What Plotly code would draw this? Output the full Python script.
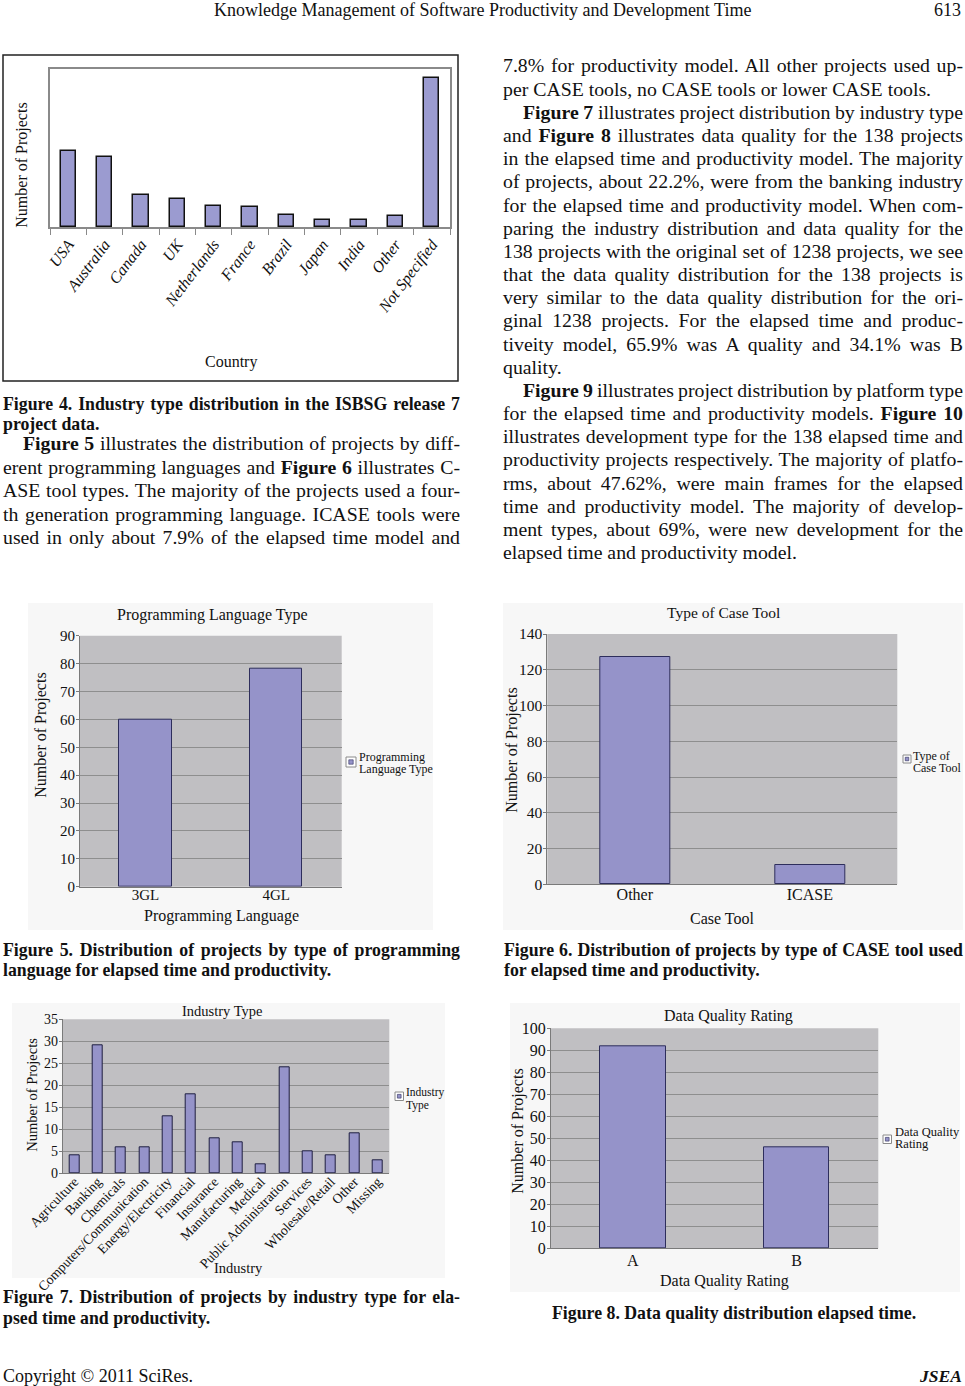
import json
import plotly.graph_objects as go

W, H = 965, 1386
SERIF = "Liberation Serif"

# ---------------- data ----------------
countries = ["USA", "Australia", "Canada", "UK", "Netherlands", "France",
             "Brazil", "Japan", "India", "Other", "Not Specified"]
country_projects = [218, 201, 92, 80, 60, 57, 34, 19, 19, 31, 428]

languages = ["3GL", "4GL"]
language_projects = [60, 78]

case_tools = ["Other", "ICASE"]
case_tool_projects = [127, 11]

industries = ["Agriculture", "Banking", "Chemicals", "Computers/Communication",
              "Energy/Electricity", "Financial", "Insurance", "Manufacturing",
              "Medical", "Public Administration", "Services", "Wholesale/Retail",
              "Other", "Missing"]
industry_projects = [4, 29, 6, 6, 13, 18, 8, 7, 2, 24, 5, 4, 9, 3]

quality_ratings = ["A", "B"]
quality_projects = [92, 46]

# ---------------- helpers ----------------
def xd(a, b):
    return [a / W, b / W]

def yd(top, bottom):
    return [1 - bottom / H, 1 - top / H]

BAR = "#9593c9"
BAR_LINE = "#2e2e5c"
PLOT_GREY = "#c0bfc2"
GRID = "#8e8e8e"
AXL = "#7a7a7a"

fig = go.Figure()

# Figure 4
fig.add_trace(go.Bar(x=countries, y=country_projects, width=0.42,
                     marker=dict(color="#9b9bd0", line=dict(color="#111111", width=1.5)),
                     xaxis="x", yaxis="y", showlegend=False))
# Figure 5
fig.add_trace(go.Bar(x=languages, y=language_projects, width=0.40,
                     marker=dict(color=BAR, line=dict(color=BAR_LINE, width=1)),
                     xaxis="x2", yaxis="y2", showlegend=False))
# Figure 6
fig.add_trace(go.Bar(x=case_tools, y=case_tool_projects, width=0.40,
                     marker=dict(color=BAR, line=dict(color=BAR_LINE, width=1)),
                     xaxis="x3", yaxis="y3", showlegend=False))
# Figure 7
fig.add_trace(go.Bar(x=industries, y=industry_projects, width=0.43,
                     marker=dict(color=BAR, line=dict(color="#1e1e40", width=1)),
                     xaxis="x4", yaxis="y4", showlegend=False))
# Figure 8
fig.add_trace(go.Bar(x=quality_ratings, y=quality_projects, width=0.40,
                     marker=dict(color=BAR, line=dict(color=BAR_LINE, width=1)),
                     xaxis="x5", yaxis="y5", showlegend=False))

tickf = lambda s: dict(family=SERIF, size=s, color="#111111")

def grey_axes(n, xdom, ydom, yrange, dtick, xsize, ysize, xangle=0, xoff=-4):
    xa = dict(domain=xdom, anchor="y%d" % n, showline=True, linecolor=AXL, linewidth=1,
              ticks="", showgrid=False, tickfont=tickf(xsize), tickangle=xangle,
              ticklabelstandoff=xoff, fixedrange=True, automargin=False)
    ya = dict(domain=ydom, anchor="x%d" % n, range=yrange, dtick=dtick, tick0=0,
              showline=True, linecolor=AXL, linewidth=1, ticks="outside", ticklen=3,
              tickcolor=AXL, showgrid=True, gridcolor=GRID, gridwidth=1,
              ticklabelstandoff=-2,
              zeroline=False, tickfont=tickf(ysize), fixedrange=True, automargin=False)
    return xa, ya

layout = dict(
    width=W, height=H, autosize=False,
    margin=dict(l=0, r=0, t=0, b=0, pad=0),
    paper_bgcolor="white", plot_bgcolor="rgba(0,0,0,0)",
    hovermode=False, bargap=0,
    font=dict(family=SERIF, color="#111111"),
)

# Figure 4 axes
layout["xaxis"] = dict(domain=xd(50, 450), anchor="y", showline=True, mirror=True,
                       linecolor="#8a8a8a", linewidth=1.5, ticks="outside",
                       tickson="boundaries", ticklen=6, tickcolor="#8a8a8a",
                       tickangle=-53, showgrid=False, automargin=False,
                       tickfont=dict(family=SERIF, size=16, color="#111111", style="italic"))
layout["yaxis"] = dict(domain=yd(69, 227), anchor="x", range=[0, 454], showline=True,
                       mirror=True, linecolor="#8a8a8a", linewidth=1.5, automargin=False,
                       showticklabels=False, ticks="", showgrid=False, zeroline=False)

xa, ya = grey_axes(2, xd(80, 341.7), yd(635.7, 886.7), [0, 90], 10, 15, 15, xoff=-6)
layout["xaxis2"], layout["yaxis2"] = xa, ya
xa, ya = grey_axes(3, xd(547.3, 897.3), yd(634, 884.3), [0, 140], 20, 16, 15.5, xoff=-5)
layout["xaxis3"], layout["yaxis3"] = xa, ya
xa, ya = grey_axes(4, xd(62.7, 389.3), yd(1019.3, 1173.3), [0, 35], 5, 13.7, 14, -46, xoff=-6)
layout["xaxis4"], layout["yaxis4"] = xa, ya
xa, ya = grey_axes(5, xd(551, 878.3), yd(1028.3, 1248.3), [0, 100], 10, 16, 16, xoff=-3)
layout["xaxis5"], layout["yaxis5"] = xa, ya

# ---------------- shapes ----------------
shapes = []
# light panels behind the pasted charts
for (x0, y0, x1, y1) in [(28, 603, 433, 930), (503, 603, 963, 930),
                         (12, 1003, 445, 1278), (510, 1003, 960, 1292)]:
    shapes.append(dict(type="rect", xref="paper", yref="paper", x0=x0 / W, x1=x1 / W,
                       y0=1 - y1 / H, y1=1 - y0 / H, fillcolor="#f7f7f7",
                       line=dict(width=0), layer="below"))
# grey plot areas
for n in [2, 3, 4, 5]:
    shapes.append(dict(type="rect", xref="x%d domain" % n, yref="y%d domain" % n,
                       x0=0, x1=1, y0=0, y1=1, fillcolor=PLOT_GREY,
                       line=dict(width=0), layer="below"))
# figure 4 frame
shapes.append(dict(type="rect", xref="paper", yref="paper", x0=3 / W, x1=458 / W,
                   y0=1 - 381 / H, y1=1 - 55 / H, line=dict(color="#222222", width=1.5),
                   fillcolor="rgba(0,0,0,0)"))
# legend keys
for (x0, y0, s) in [(346, 757, 10), (903, 755, 8), (395, 1092, 8.5), (883, 1135, 8.5)]:
    shapes.append(dict(type="rect", xref="paper", yref="paper", x0=x0 / W, x1=(x0 + s) / W,
                       y0=1 - (y0 + s) / H, y1=1 - y0 / H, fillcolor="white",
                       line=dict(color="#8a8a8a", width=1)))
    m = s * 0.28
    shapes.append(dict(type="rect", xref="paper", yref="paper", x0=(x0 + m) / W,
                       x1=(x0 + s - m) / W, y0=1 - (y0 + s - m) / H, y1=1 - (y0 + m) / H,
                       fillcolor=BAR, line=dict(color=BAR_LINE, width=0.6)))
layout["shapes"] = shapes

# ---------------- text ----------------
anns = []
just = {}

def add(x, y, text, size=16, xanchor="left", bold=False, italic=False, angle=0,
        right=None, color="#111111"):
    if bold:
        text = "<b>" + text + "</b>"
    if italic:
        text = "<i>" + text + "</i>"
    anns.append(dict(x=x / W, y=1 - y / H, xref="paper", yref="paper", text=text,
                     showarrow=False, xanchor=xanchor, yanchor="middle",
                     align=xanchor if xanchor != "center" else "center",
                     font=dict(family=SERIF, size=size, color=color),
                     textangle=angle, borderpad=0))
    if right is not None:
        just[str(len(anns) - 1)] = right - x - 1

BODY = 19.8
CAP = 17.8

# header / footer
add(482, 10.5, "Knowledge Management of Software Productivity and Development Time", 18, "center")
add(962, 10.5, "613", 18, "right")
add(2, 1376, "Copyright © 2011 SciRes.", 18)
add(963, 1376, "<b><i>JSEA</i></b>", 17.5, "right")

# figure 4 texts
add(21.7, 165, "Number of Projects", 16, "center", angle=-90)
add(230.7, 361.7, "Country", 16, "center")
add(2, 404, "Figure 4. Industry type distribution in the ISBSG release 7", CAP, bold=True, right=460)
add(2, 424, "project data.", CAP, bold=True)

# left column paragraph
left_lines = [
    (22, "<b>Figure 5</b> illustrates the distribution of projects by diff-", True),
    (2, "erent programming languages and <b>Figure 6</b> illustrates C-", True),
    (2, "ASE tool types. The majority of the projects used a four-", True),
    (2, "th generation programming language. ICASE tools were", True),
    (2, "used in only about 7.9% of the elapsed time model and", True),
]
for i, (x, t, j) in enumerate(left_lines):
    add(x, 443 + 23.6 * i, t, BODY, right=460 if j else None)

# right column paragraph
right_lines = [
    (502, "7.8% for productivity model. All other projects used up-", True),
    (502, "per CASE tools, no CASE tools or lower CASE tools.", False),
    (522, "<b>Figure 7</b> illustrates project distribution by industry type", True),
    (502, "and <b>Figure 8</b> illustrates data quality for the 138 projects", True),
    (502, "in the elapsed time and productivity model. The majority", True),
    (502, "of projects, about 22.2%, were from the banking industry", True),
    (502, "for the elapsed time and productivity model. When com-", True),
    (502, "paring the industry distribution and data quality for the", True),
    (502, "138 projects with the original set of 1238 projects, we see", True),
    (502, "that the data quality distribution for the 138 projects is", True),
    (502, "very similar to the data quality distribution for the ori-", True),
    (502, "ginal 1238 projects. For the elapsed time and produc-", True),
    (502, "tiveity model, 65.9% was A quality and 34.1% was B", True),
    (502, "quality.", False),
    (522, "<b>Figure 9</b> illustrates project distribution by platform type", True),
    (502, "for the elapsed time and productivity models. <b>Figure 10</b>", True),
    (502, "illustrates development type for the 138 elapsed time and", True),
    (502, "productivity projects respectively. The majority of platfo-", True),
    (502, "rms, about 47.62%, were main frames for the elapsed", True),
    (502, "time and productivity model. The majority of develop-", True),
    (502, "ment types, about 69%, were new development for the", True),
    (502, "elapsed time and productivity model.", False),
]
for i, (x, t, j) in enumerate(right_lines):
    add(x, 65.5 + 23.17 * i, t, BODY, right=963 if j else None)

# figure 5 texts
add(212.7, 615, "Programming Language Type", 16, "center")
add(221, 916, "Programming Language", 16, "center")
add(40.7, 735, "Number of Projects", 16, "center", angle=-90)
add(358, 757, "Programming", 12)
add(358, 769, "Language Type", 12)
add(2, 950, "Figure 5. Distribution of projects by type of programming", CAP, bold=True, right=460)
add(2, 970, "language for elapsed time and productivity.", CAP, bold=True)

# figure 6 texts
add(723, 612.7, "Type of Case Tool", 15.5, "center")
add(721.7, 918, "Case Tool", 16, "center")
add(511.7, 750, "Number of Projects", 16, "center", angle=-90)
add(911.5, 755.5, "Type of", 12)
add(911.5, 767.5, "Case Tool", 12)
add(503, 950, "Figure 6. Distribution of projects by type of CASE tool used", CAP, bold=True, right=963)
add(503, 970, "for elapsed time and productivity.", CAP, bold=True)

# figure 7 texts
add(222, 1011, "Industry Type", 14.5, "center")
add(238, 1268, "Industry", 14.5, "center")
add(31.7, 1095, "Number of Projects", 14.5, "center", angle=-90)
add(405, 1092.7, "Industry", 11.5)
add(405, 1105, "Type", 11.5)
add(2, 1297, "Figure 7. Distribution of projects by industry type for ela-", CAP, bold=True, right=460)
add(2, 1318, "psed time and productivity.", CAP, bold=True)

# figure 8 texts
add(728.3, 1015.7, "Data Quality Rating", 16, "center")
add(724, 1280.7, "Data Quality Rating", 16, "center")
add(518, 1131.7, "Number of Projects", 16, "center", angle=-90)
add(893.5, 1131.7, "Data Quality", 12.5)
add(893.5, 1144.3, "Rating", 12.5)
add(733.5, 1313, "Figure 8. Data quality distribution elapsed time.", CAP, "center", bold=True)

layout["annotations"] = anns
fig.update_layout(layout)

post = """
document.body.style.margin='0';
var gd=document.getElementById('{plot_id}');
var J=%s;
gd.querySelectorAll('g.annotation').forEach(function(g){
  var i=g.getAttribute('data-index');
  if(!(i in J)) return;
  var t=g.querySelector('text.annotation-text');
  if(!t) return;
  var w=t.getComputedTextLength();
  var n=(t.textContent.match(/[ \\u00a0]/g)||[]).length;
  if(n>0){ t.style.wordSpacing=((J[i]-w)/n)+'px'; }
});
""" % json.dumps(just)

fig.write_html("out.html", post_script=post, config={"displayModeBar": False})
